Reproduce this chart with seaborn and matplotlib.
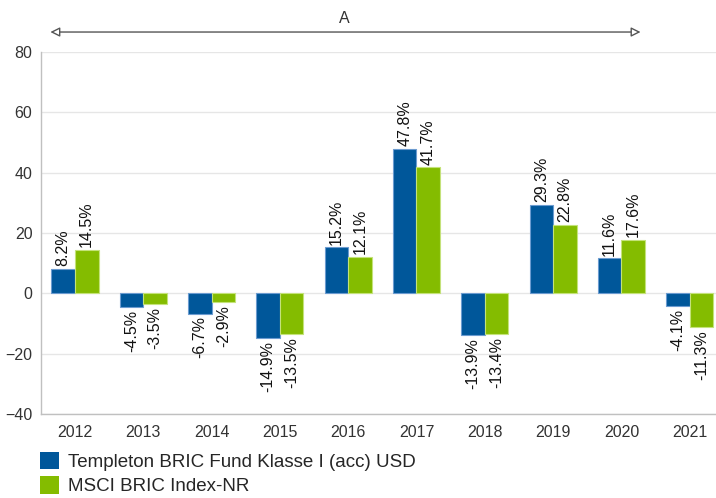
import pandas as pd
import matplotlib
matplotlib.use("Agg")
import matplotlib.pyplot as plt
import matplotlib.patches as mpatches
import seaborn as sns

# chart data
years = ['2012', '2013', '2014', '2015', '2016', '2017', '2018', '2019', '2020', '2021']
fund = [8.2, -4.5, -6.7, -14.9, 15.2, 47.8, -13.9, 29.3, 11.6, -4.1]
index = [14.5, -3.5, -2.9, -13.5, 12.1, 41.7, -13.4, 22.8, 17.6, -11.3]
series_names = ['Templeton BRIC Fund Klasse I (acc) USD', 'MSCI BRIC Index-NR']
colors = ['#00579a', '#84bc00']
edges = ['#6b9bd0', '#c4e27a']

df = pd.DataFrame({
    'year': years * 2,
    'value': fund + index,
    'series': [series_names[0]] * len(years) + [series_names[1]] * len(years),
})

sns.set_style('white')
plt.rcParams['font.family'] = ['Liberation Sans', 'DejaVu Sans']

fig = plt.figure(figsize=(7.16, 4.98), dpi=100)
ax = fig.add_axes([0.057, 0.1687, 0.954, 0.727])

sns.barplot(data=df, x='year', y='value', hue='series', palette=colors,
            saturation=1, width=0.69, gap=0, legend=False, ax=ax, errorbar=None)

for cont, ec in zip(ax.containers, edges):
    for bar in cont:
        bar.set_edgecolor(ec)
        bar.set_linewidth(0.8)
    ax.bar_label(cont, fmt='{:.1f}%', rotation=90, padding=2,
                 fontsize=11.5, color='#111111')

ax.set_ylim(-40, 80)
ax.set_xlim(-0.5, 9.5)
ax.set_yticks(range(-40, 81, 20))
ax.grid(axis='y', color='#e6e6e6', linewidth=1)
ax.set_axisbelow(True)
ax.set_xlabel('')
ax.set_ylabel('')
for side in ['top', 'right']:
    ax.spines[side].set_visible(False)
for side in ['left', 'bottom']:
    ax.spines[side].set_color('#c0c0c0')
    ax.spines[side].set_linewidth(1)
ax.tick_params(axis='both', labelsize=11.5, colors='#333333', length=0, pad=8)
ax.tick_params(axis='y', pad=6)

# period arrow "A"
ax.annotate('', xy=(-0.36, 86.6), xytext=(8.28, 86.6), annotation_clip=False,
            arrowprops=dict(arrowstyle='<|-|>', facecolor='white', edgecolor='#555555',
                            linewidth=1, mutation_scale=14, shrinkA=0, shrinkB=0))
ax.text(3.95, 88.5, 'A', ha='center', va='bottom', fontsize=11.5, color='#333333', clip_on=False)

handles = [mpatches.Patch(facecolor=c, edgecolor='none') for c in colors]
fig.legend(handles, series_names, loc='lower left', bbox_to_anchor=(0.045, -0.01),
           frameon=False, fontsize=13.5, handlelength=1.05, handleheight=1.05,
           labelspacing=0.3, handletextpad=0.45, borderaxespad=0)

fig.savefig('out.png', dpi=100)
